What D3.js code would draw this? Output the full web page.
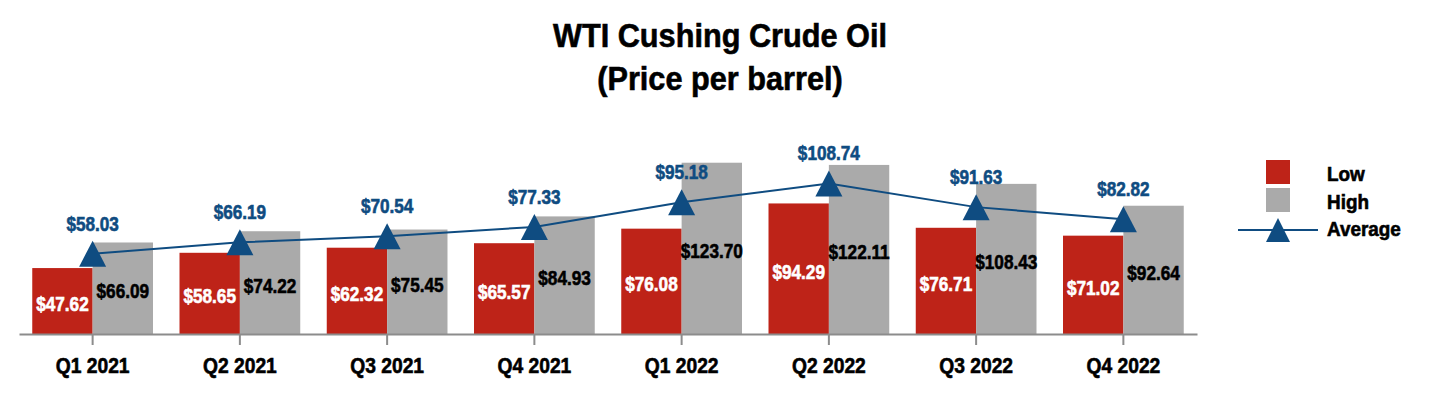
<!DOCTYPE html>
<html>
<head>
<meta charset="utf-8">
<script src="https://cdn.jsdelivr.net/npm/d3@7"></script>
<style>
  body { margin: 0; background: #fff; }
  text { font-family: "Liberation Sans", Arial, sans-serif; font-weight: bold; stroke-width: 0.6px; }
</style>
</head>
<body>
<div id="chart"></div>
<script>
const quarters = ["Q1 2021", "Q2 2021", "Q3 2021", "Q4 2021", "Q1 2022", "Q2 2022", "Q3 2022", "Q4 2022"];
const lowValues = [47.62, 58.65, 62.32, 65.57, 76.08, 94.29, 76.71, 71.02];
const highValues = [66.09, 74.22, 75.45, 84.93, 123.70, 122.11, 108.43, 92.64];
const avgValues = [58.03, 66.19, 70.54, 77.33, 95.18, 108.74, 91.63, 82.82];
const legendLabels = ["Low", "High", "Average"];

const W = 1440, H = 398;
const RED = "#be2318", GRAY = "#aaaaaa", BLUE = "#0f4c81";

const svg = d3.select("#chart").append("svg")
  .attr("width", W).attr("height", H);

// no narrow font installed, so squeeze the text horizontally
function squeeze(sel, sx) {
  sel.each(function() {
    const t = d3.select(this);
    const tx = +t.attr("x") || 0, ty = +t.attr("y") || 0;
    t.attr("transform", `translate(${tx},${ty}) scale(${sx},1)`)
      .attr("x", 0).attr("y", 0);
  });
}

// title
const title = svg.append("g")
  .attr("transform", "translate(720,0) scale(0.93,1)")
  .append("text")
  .attr("text-anchor", "middle")
  .attr("font-size", "33px")
  .attr("fill", "#000")
  .attr("stroke", "#000");
title.append("tspan").attr("x", 0).attr("y", 47).text("WTI Cushing Crude Oil");
title.append("tspan").attr("x", 0).attr("y", 90).text("(Price per barrel)");

const x = d3.scaleBand()
  .domain(quarters)
  .range([19, 1197])
  .paddingInner(0.18)
  .paddingOuter(0.09);

const y = d3.scaleLinear()
  .domain([0, 130])
  .range([334, 154]);

const bw = x.bandwidth() / 2;
const cx = q => x(q) + x.bandwidth() / 2;

// low bars
svg.selectAll(".low").data(quarters).enter().append("rect")
  .attr("x", q => x(q))
  .attr("y", (q, i) => y(lowValues[i]))
  .attr("width", bw)
  .attr("height", (q, i) => y(0) - y(lowValues[i]))
  .attr("fill", RED);

// high bars
svg.selectAll(".high").data(quarters).enter().append("rect")
  .attr("x", q => x(q) + bw)
  .attr("y", (q, i) => y(highValues[i]))
  .attr("width", bw)
  .attr("height", (q, i) => y(0) - y(highValues[i]))
  .attr("fill", GRAY);

// x axis
const axis = svg.append("g")
  .attr("transform", `translate(0,${y(0)})`)
  .call(d3.axisBottom(x).tickSize(11).tickPadding(12).tickSizeOuter(0));
axis.attr("font-family", null).attr("font-size", null);
axis.select(".domain").attr("stroke", "#8c8c8c").attr("stroke-width", 2);
axis.selectAll(".tick line").attr("stroke", "#8c8c8c").attr("stroke-width", 2);
axis.selectAll(".tick text")
  .attr("font-size", "22px")
  .attr("fill", "#000")
  .attr("stroke", "#000")
  .attr("transform", "scale(0.875,1)");

// bar labels
const lowLabels = svg.selectAll(".lowLabel").data(quarters).enter().append("text")
  .attr("x", q => x(q) + bw / 2)
  .attr("y", (q, i) => (y(0) + y(lowValues[i])) / 2 + 10)
  .attr("text-anchor", "middle")
  .attr("font-size", "21px")
  .attr("fill", "#fff")
  .attr("stroke", "#fff")
  .text((q, i) => "$" + lowValues[i].toFixed(2));
squeeze(lowLabels, 0.82);

const highLabels = svg.selectAll(".highLabel").data(quarters).enter().append("text")
  .attr("x", q => x(q) + bw * 1.5)
  .attr("y", (q, i) => (y(0) + y(highValues[i])) / 2 + 10)
  .attr("text-anchor", "middle")
  .attr("font-size", "21px")
  .attr("fill", "#000")
  .attr("stroke", "#000")
  .text((q, i) => "$" + highValues[i].toFixed(2));
squeeze(highLabels, 0.82);

// average line
const line = d3.line()
  .x((d, i) => cx(quarters[i]))
  .y(d => y(d));
svg.append("path")
  .datum(avgValues)
  .attr("d", line)
  .attr("fill", "none")
  .attr("stroke", BLUE)
  .attr("stroke-width", 2);

const tri = "M0,-13L13.5,13L-13.5,13Z";
svg.selectAll(".avgMark").data(avgValues).enter().append("path")
  .attr("d", tri)
  .attr("transform", (d, i) => `translate(${cx(quarters[i])},${y(d)})`)
  .attr("fill", BLUE);

const avgLabels = svg.selectAll(".avgLabel").data(avgValues).enter().append("text")
  .attr("x", (d, i) => cx(quarters[i]))
  .attr("y", d => y(d) - 23)
  .attr("text-anchor", "middle")
  .attr("font-size", "19.5px")
  .attr("fill", BLUE)
  .attr("stroke", BLUE)
  .text(d => "$" + d.toFixed(2));
squeeze(avgLabels, 0.88);

// legend
const lg = svg.append("g");
lg.append("rect").attr("x", 1266).attr("y", 160).attr("width", 24).attr("height", 24).attr("fill", RED);
lg.append("rect").attr("x", 1266).attr("y", 188).attr("width", 24).attr("height", 24).attr("fill", GRAY);
lg.append("line").attr("x1", 1238).attr("x2", 1318).attr("y1", 230).attr("y2", 230)
  .attr("stroke", BLUE).attr("stroke-width", 2);
lg.append("path").attr("d", "M0,-12L12,12L-12,12Z")
  .attr("transform", "translate(1278,230)").attr("fill", BLUE);
const legendText = lg.selectAll(".lt").data(legendLabels).enter().append("text")
  .attr("x", 1327)
  .attr("y", (d, i) => 181 + i * 27.5)
  .attr("font-size", "19.5px")
  .attr("fill", "#000")
  .attr("stroke", "#000")
  .text(d => d);
squeeze(legendText, 0.97);
</script>
</body>
</html>
